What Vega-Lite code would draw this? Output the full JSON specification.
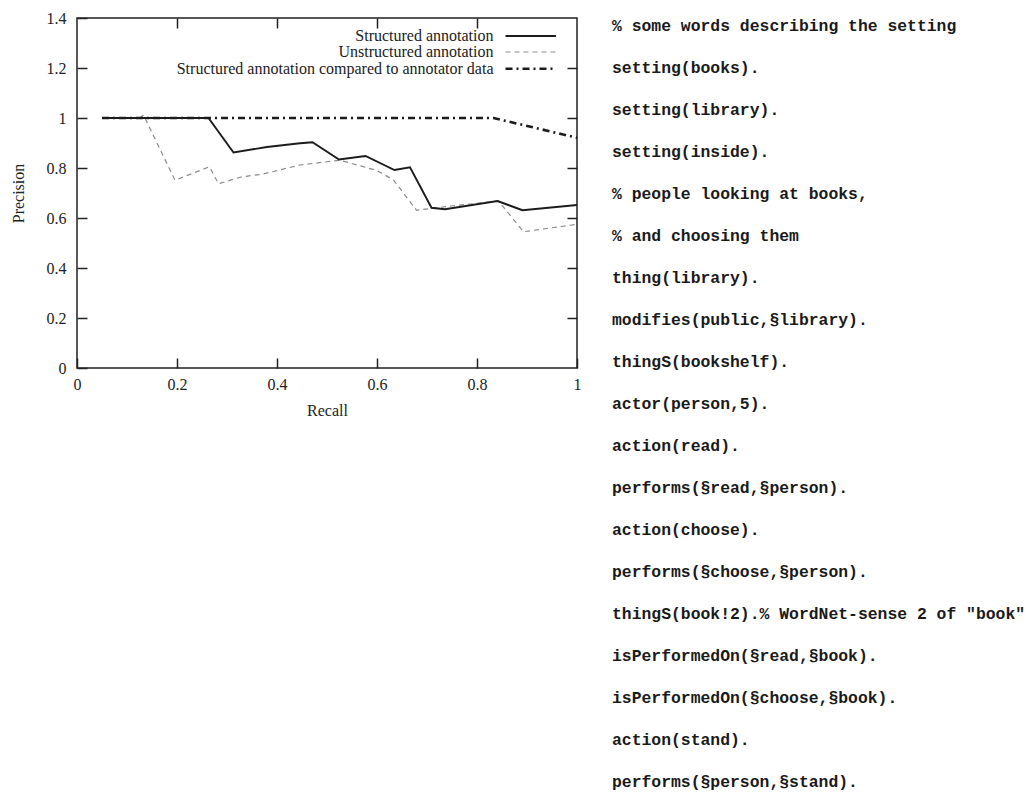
{
  "$schema": "https://vega.github.io/schema/vega-lite/v6.json",
  "padding": {"left": 9, "top": 9, "right": 0, "bottom": 0},
  "background": "white",
  "config": {"view": {"stroke": null}, "font": "Liberation Serif"},
  "spacing": 29,
  "hconcat": [
    {
      "width": 500,
      "height": 350,
      "view": {"stroke": "#222", "strokeWidth": 1.5},
      "resolve": {"axis": {"x": "independent", "y": "independent"}},
      "data": {"values": [
        {"series": "Structured annotation", "recall": 0.05, "precision": 1.0},
        {"series": "Structured annotation", "recall": 0.263, "precision": 1.0},
        {"series": "Structured annotation", "recall": 0.313, "precision": 0.862},
        {"series": "Structured annotation", "recall": 0.38, "precision": 0.884},
        {"series": "Structured annotation", "recall": 0.446, "precision": 0.899},
        {"series": "Structured annotation", "recall": 0.471, "precision": 0.903},
        {"series": "Structured annotation", "recall": 0.524, "precision": 0.834},
        {"series": "Structured annotation", "recall": 0.577, "precision": 0.848},
        {"series": "Structured annotation", "recall": 0.635, "precision": 0.792},
        {"series": "Structured annotation", "recall": 0.666, "precision": 0.803},
        {"series": "Structured annotation", "recall": 0.709, "precision": 0.641},
        {"series": "Structured annotation", "recall": 0.736, "precision": 0.635},
        {"series": "Structured annotation", "recall": 0.841, "precision": 0.668},
        {"series": "Structured annotation", "recall": 0.891, "precision": 0.631},
        {"series": "Structured annotation", "recall": 1.0, "precision": 0.652},
        {"series": "Unstructured annotation", "recall": 0.125, "precision": 1.0},
        {"series": "Unstructured annotation", "recall": 0.133, "precision": 1.012},
        {"series": "Unstructured annotation", "recall": 0.196, "precision": 0.751},
        {"series": "Unstructured annotation", "recall": 0.265, "precision": 0.805},
        {"series": "Unstructured annotation", "recall": 0.283, "precision": 0.737},
        {"series": "Unstructured annotation", "recall": 0.33, "precision": 0.765},
        {"series": "Unstructured annotation", "recall": 0.37, "precision": 0.775},
        {"series": "Unstructured annotation", "recall": 0.446, "precision": 0.812},
        {"series": "Unstructured annotation", "recall": 0.526, "precision": 0.831},
        {"series": "Unstructured annotation", "recall": 0.6, "precision": 0.79},
        {"series": "Unstructured annotation", "recall": 0.633, "precision": 0.752},
        {"series": "Unstructured annotation", "recall": 0.679, "precision": 0.631},
        {"series": "Unstructured annotation", "recall": 0.749, "precision": 0.648},
        {"series": "Unstructured annotation", "recall": 0.843, "precision": 0.668},
        {"series": "Unstructured annotation", "recall": 0.893, "precision": 0.545},
        {"series": "Unstructured annotation", "recall": 1.0, "precision": 0.575},
        {"series": "Structured annotation compared to annotator data", "recall": 0.05, "precision": 1.0},
        {"series": "Structured annotation compared to annotator data", "recall": 0.833, "precision": 1.0},
        {"series": "Structured annotation compared to annotator data", "recall": 1.0, "precision": 0.921}
      ]},
      "layer": [
        {
          "transform": [{"filter": "datum.series === 'Unstructured annotation'"}],
          "mark": {"type": "line", "color": "#8c8c8c", "strokeWidth": 1.2, "strokeDash": [5, 4]},
          "encoding": {
            "x": {"field": "recall", "type": "quantitative", "scale": {"domain": [0, 1], "nice": false, "zero": false},
              "axis": {"values": [0, 0.2, 0.4, 0.6, 0.8, 1], "format": "~g", "tickSize": -10, "tickWidth": 1.5, "tickColor": "#222", "labelPadding": 18, "domain": false, "grid": false, "title": "Recall", "titlePadding": 10, "labelFontSize": 16, "titleFontSize": 16, "titleFontWeight": "normal", "labelColor": "#222", "titleColor": "#222", "labelFlush": false, "labelFont": "Liberation Serif", "titleFont": "Liberation Serif"}},
            "y": {"field": "precision", "type": "quantitative", "scale": {"domain": [0, 1.4], "nice": false, "zero": false},
              "axis": {"values": [0, 0.2, 0.4, 0.6, 0.8, 1, 1.2, 1.4], "format": "~g", "tickSize": -10, "tickWidth": 1.5, "tickColor": "#222", "labelPadding": 21, "domain": false, "grid": false, "title": "Precision", "titlePadding": 20, "labelFontSize": 16, "titleFontSize": 16, "titleFontWeight": "normal", "labelColor": "#222", "titleColor": "#222", "labelFlush": false, "labelFont": "Liberation Serif", "titleFont": "Liberation Serif"}}
          }
        },
        {
          "transform": [{"filter": "datum.series === 'Structured annotation'"}],
          "mark": {"type": "line", "color": "#1c1c1c", "strokeWidth": 1.9},
          "encoding": {
            "x": {"field": "recall", "type": "quantitative", "axis": null},
            "y": {"field": "precision", "type": "quantitative", "axis": null}
          }
        },
        {
          "transform": [{"filter": "datum.series === 'Structured annotation compared to annotator data'"}],
          "mark": {"type": "line", "color": "#1c1c1c", "strokeWidth": 2.6, "strokeDash": [7, 4, 2, 4]},
          "encoding": {
            "x": {"field": "recall", "type": "quantitative", "axis": null},
            "y": {"field": "precision", "type": "quantitative", "axis": null}
          }
        },
        {
          "data": {"values": [{}]},
          "mark": {"type": "rule", "color": "#1c1c1c", "strokeWidth": 1.9},
          "encoding": {
            "x": {"datum": 0.857, "type": "quantitative", "axis": {"orient": "top", "values": [0.2, 0.4, 0.6, 0.8], "labels": false, "title": null, "tickSize": -10, "tickWidth": 1.5, "tickColor": "#222", "domain": false, "grid": false}},
            "x2": {"datum": 0.958},
            "y": {"datum": 1.328, "type": "quantitative", "axis": {"orient": "right", "values": [0.2, 0.4, 0.6, 0.8, 1, 1.2], "labels": false, "title": null, "tickSize": -10, "tickWidth": 1.5, "tickColor": "#222", "domain": false, "grid": false}}
          }
        },
        {
          "data": {"values": [{}]},
          "mark": {"type": "rule", "color": "#8c8c8c", "strokeWidth": 1.2, "strokeDash": [5, 4]},
          "encoding": {
            "x": {"datum": 0.857, "type": "quantitative", "axis": null},
            "x2": {"datum": 0.958},
            "y": {"datum": 1.264, "type": "quantitative", "axis": null}
          }
        },
        {
          "data": {"values": [{}]},
          "mark": {"type": "rule", "color": "#1c1c1c", "strokeWidth": 2.6, "strokeDash": [7, 4, 2, 4]},
          "encoding": {
            "x": {"datum": 0.857, "type": "quantitative", "axis": null},
            "x2": {"datum": 0.958},
            "y": {"datum": 1.197, "type": "quantitative", "axis": null}
          }
        },
        {
          "data": {"values": [{}]},
          "mark": {"type": "text", "align": "right", "baseline": "middle", "fontSize": 16, "font": "Liberation Serif", "color": "#222"},
          "encoding": {
            "x": {"datum": 0.833, "type": "quantitative", "axis": null},
            "y": {"datum": 1.328, "type": "quantitative", "axis": null},
            "text": {"value": "Structured annotation"}
          }
        },
        {
          "data": {"values": [{}]},
          "mark": {"type": "text", "align": "right", "baseline": "middle", "fontSize": 16, "font": "Liberation Serif", "color": "#222"},
          "encoding": {
            "x": {"datum": 0.833, "type": "quantitative", "axis": null},
            "y": {"datum": 1.264, "type": "quantitative", "axis": null},
            "text": {"value": "Unstructured annotation"}
          }
        },
        {
          "data": {"values": [{}]},
          "mark": {"type": "text", "align": "right", "baseline": "middle", "fontSize": 16, "font": "Liberation Serif", "color": "#222"},
          "encoding": {
            "x": {"datum": 0.833, "type": "quantitative", "axis": null},
            "y": {"datum": 1.197, "type": "quantitative", "axis": null},
            "text": {"value": "Structured annotation compared to annotator data"}
          }
        }
      ]
    },
    {
      "width": 417,
      "height": 772,
      "data": {"values": [
        {"line": 1, "code": "% some words describing the setting"},
        {"line": 2, "code": "setting(books)."},
        {"line": 3, "code": "setting(library)."},
        {"line": 4, "code": "setting(inside)."},
        {"line": 5, "code": "% people looking at books,"},
        {"line": 6, "code": "% and choosing them"},
        {"line": 7, "code": "thing(library)."},
        {"line": 8, "code": "modifies(public,§library)."},
        {"line": 9, "code": "thingS(bookshelf)."},
        {"line": 10, "code": "actor(person,5)."},
        {"line": 11, "code": "action(read)."},
        {"line": 12, "code": "performs(§read,§person)."},
        {"line": 13, "code": "action(choose)."},
        {"line": 14, "code": "performs(§choose,§person)."},
        {"line": 15, "code": "thingS(book!2).% WordNet-sense 2 of \"book\""},
        {"line": 16, "code": "isPerformedOn(§read,§book)."},
        {"line": 17, "code": "isPerformedOn(§choose,§book)."},
        {"line": 18, "code": "action(stand)."},
        {"line": 19, "code": "performs(§person,§stand)."}
      ]},
      "mark": {"type": "text", "align": "left", "baseline": "middle", "font": "Liberation Mono", "fontWeight": "bold", "fontSize": 16.4, "color": "#1a1a1a"},
      "encoding": {
        "y": {"field": "line", "type": "ordinal", "scale": {"type": "point", "padding": 0.19}, "axis": null},
        "x": {"datum": 0, "type": "quantitative", "scale": {"domain": [0, 1]}, "axis": null},
        "text": {"field": "code"}
      }
    }
  ]
}
